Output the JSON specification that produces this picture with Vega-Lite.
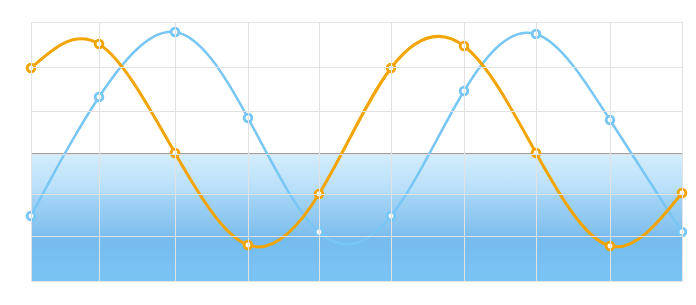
{
  "$schema": "https://vega.github.io/schema/vega-lite/v6.json",
  "width": 651,
  "height": 259,
  "autosize": {"type": "none"},
  "padding": {"left": 31, "top": 22, "right": 14, "bottom": 24},
  "background": "white",
  "config": {"view": {"stroke": null}},
  "datasets": {
    "series": [
      {"x": 0, "s": "blue", "v": 65},
      {"x": 68, "s": "blue", "v": 184},
      {"x": 144, "s": "blue", "v": 249},
      {"x": 217, "s": "blue", "v": 163},
      {"x": 288, "s": "blue", "v": 49},
      {"x": 360, "s": "blue", "v": 65},
      {"x": 433, "s": "blue", "v": 190},
      {"x": 505, "s": "blue", "v": 247},
      {"x": 579, "s": "blue", "v": 161},
      {"x": 651, "s": "blue", "v": 49},
      {"x": 0, "s": "orange", "v": 213},
      {"x": 68, "s": "orange", "v": 237},
      {"x": 144, "s": "orange", "v": 128},
      {"x": 217, "s": "orange", "v": 36},
      {"x": 288, "s": "orange", "v": 87},
      {"x": 360, "s": "orange", "v": 213},
      {"x": 433, "s": "orange", "v": 235},
      {"x": 505, "s": "orange", "v": 128},
      {"x": 579, "s": "orange", "v": 35},
      {"x": 651, "s": "orange", "v": 88}
    ],
    "band": [{"x0": 0, "x1": 651, "lo": 0, "hi": 127}]
  },
  "layer": [
    {
      "data": {"name": "band"},
      "mark": {
        "type": "rect",
        "fill": {
          "gradient": "linear",
          "x1": 0, "y1": 0, "x2": 0, "y2": 1,
          "stops": [
            {"offset": 0, "color": "#d4edfd"},
            {"offset": 0.3, "color": "#b6def9"},
            {"offset": 0.32, "color": "#a6d5f6"},
            {"offset": 0.6, "color": "#84c2ef"},
            {"offset": 0.66, "color": "#76bbed"},
            {"offset": 0.78, "color": "#77bff1"},
            {"offset": 1, "color": "#7ac4f4"}
          ]
        }
      },
      "encoding": {
        "x": {"field": "x0", "type": "quantitative", "scale": {"domain": [0, 651], "nice": false, "zero": false},
              "axis": {"values": [0, 68, 144, 217, 288, 360, 433, 505, 579, 651], "labels": false, "ticks": false, "domain": false, "title": null, "grid": true, "gridColor": "#e2e2e2", "gridWidth": 1, "zindex": 1}},
        "x2": {"field": "x1"},
        "y": {"field": "lo", "type": "quantitative", "scale": {"domain": [0, 259], "nice": false, "zero": false},
              "axis": {"values": [0, 45, 87, 127, 170, 214, 259], "labels": false, "ticks": false, "domain": false, "title": null, "grid": true, "gridColor": "#e2e2e2", "gridWidth": 1, "zindex": 1}},
        "y2": {"field": "hi"}
      }
    },
    {
      "data": {"name": "band"},
      "mark": {"type": "rule", "color": "#a0a0a0", "strokeWidth": 2},
      "encoding": {
        "x": {"field": "x0", "type": "quantitative"},
        "x2": {"field": "x1"},
        "y": {"field": "hi", "type": "quantitative"}
      }
    },
    {
      "data": {"name": "series"},
      "transform": [{"filter": "datum.s === 'blue'"}],
      "mark": {"type": "line", "interpolate": "natural", "color": "#78c6f4", "strokeWidth": 2.5},
      "encoding": {
        "x": {"field": "x", "type": "quantitative"},
        "y": {"field": "v", "type": "quantitative"}
      }
    },
    {
      "data": {"name": "series"},
      "transform": [{"filter": "datum.s === 'orange'"}],
      "mark": {"type": "line", "interpolate": "natural", "color": "#f2a502", "strokeWidth": 3},
      "encoding": {
        "x": {"field": "x", "type": "quantitative"},
        "y": {"field": "v", "type": "quantitative"}
      }
    },
    {
      "data": {"name": "series"},
      "mark": {"type": "point", "filled": false, "fill": "white", "fillOpacity": 1, "strokeWidth": 2.8, "size": 60, "opacity": 1},
      "encoding": {
        "x": {"field": "x", "type": "quantitative"},
        "y": {"field": "v", "type": "quantitative"},
        "stroke": {"field": "s", "type": "nominal", "scale": {"domain": ["blue", "orange"], "range": ["#78c6f4", "#f2a502"]}, "legend": null}
      }
    }
  ]
}
